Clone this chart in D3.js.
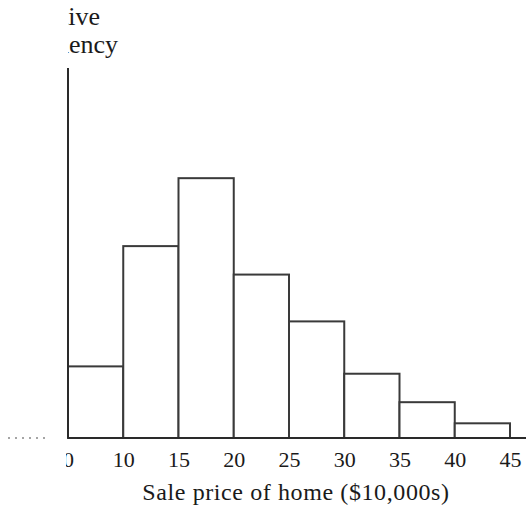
<!DOCTYPE html>
<html>
<head>
<meta charset="utf-8">
<script src="https://cdn.jsdelivr.net/npm/d3@7"></script>
<style>
  html, body { margin: 0; padding: 0; background: #fff; }
  svg { display: block; }
</style>
</head>
<body>
<script>
// Bin edges (sale price, $10,000s)
const binStarts = [5, 10, 15, 20, 25, 30, 35, 40];
const binWidth = 5;
// Relative frequency of each bin
const relFreq = [0.078, 0.209, 0.283, 0.178, 0.127, 0.070, 0.039, 0.016];
// Tick values and labels on the x axis
const tickValues = [5, 10, 15, 20, 25, 30, 35, 40, 45];
const tickLabels = ["0", "10", "15", "20", "25", "30", "35", "40", "45"];
const yTitleLines = ["Relative", "Frequency"];
const xTitle = "Sale price of home ($10,000s)";

const FONT = "Liberation Serif, DejaVu Serif, serif";
const W = 526, H = 509;
const svg = d3.select("body").append("svg").attr("width", W).attr("height", H)
  .attr("font-family", FONT);

const x = d3.scaleLinear().domain([5, 45]).range([68, 510]);
const y = d3.scaleLinear().domain([0, 0.403]).range([438, 68]);

const defs = svg.append("defs");
defs.append("clipPath").attr("id", "clipLeft")
  .append("rect").attr("x", 66).attr("y", 0).attr("width", W).attr("height", H);
defs.append("clipPath").attr("id", "clipTitle")
  .append("rect").attr("x", 68).attr("y", 0).attr("width", W).attr("height", H);

// Bars
svg.append("g").selectAll("rect")
  .data(binStarts.map((s, i) => ({ s, v: relFreq[i] })))
  .join("rect")
  .attr("x", d => x(d.s))
  .attr("y", d => y(d.v))
  .attr("width", d => x(d.s + binWidth) - x(d.s))
  .attr("height", d => y(0) - y(d.v))
  .attr("fill", "#fff")
  .attr("stroke", "#3a3a3a")
  .attr("stroke-width", 2);

// Baseline (x axis) extends to the right edge
svg.append("line")
  .attr("x1", x(5)).attr("x2", W)
  .attr("y1", y(0)).attr("y2", y(0))
  .attr("stroke", "#2a2a2a").attr("stroke-width", 2);

// Axis break dots to the left
svg.append("line")
  .attr("x1", 8).attr("x2", 50)
  .attr("y1", y(0)).attr("y2", y(0))
  .attr("stroke", "#888").attr("stroke-width", 1.5)
  .attr("stroke-dasharray", "2,5");

// Y axis line
svg.append("line")
  .attr("x1", x(5)).attr("x2", x(5))
  .attr("y1", y.range()[0]).attr("y2", y.range()[1])
  .attr("stroke", "#2a2a2a").attr("stroke-width", 2);

// Tick labels
const xAxis = d3.axisBottom(x)
  .tickValues(tickValues)
  .tickFormat((d, i) => tickLabels[i])
  .tickSize(0).tickPadding(0);
const gx = svg.append("g").attr("transform", `translate(0,${y(0)})`).call(xAxis)
  .attr("font-family", FONT).attr("font-size", 22);
gx.select(".domain").remove();
gx.selectAll("text")
  .attr("dy", null)
  .attr("y", 29)
  .attr("fill", "#1a1a1a");
gx.attr("clip-path", "url(#clipLeft)");

// X title
svg.append("text")
  .attr("x", 296).attr("y", 500)
  .attr("text-anchor", "middle")
  .attr("font-size", 24)
  .attr("fill", "#1a1a1a")
  .attr("letter-spacing", 0.6)
  .text(xTitle);

// Y title (left part cut off)
const gy = svg.append("g").attr("clip-path", "url(#clipTitle)");
gy.append("text").attr("x", 100).attr("y", 25)
  .attr("text-anchor", "end").attr("font-size", 26).attr("fill", "#1a1a1a").text(yTitleLines[0]);
gy.append("text").attr("x", 118).attr("y", 53)
  .attr("text-anchor", "end").attr("font-size", 26).attr("fill", "#1a1a1a").text(yTitleLines[1]);
</script>
</body>
</html>
